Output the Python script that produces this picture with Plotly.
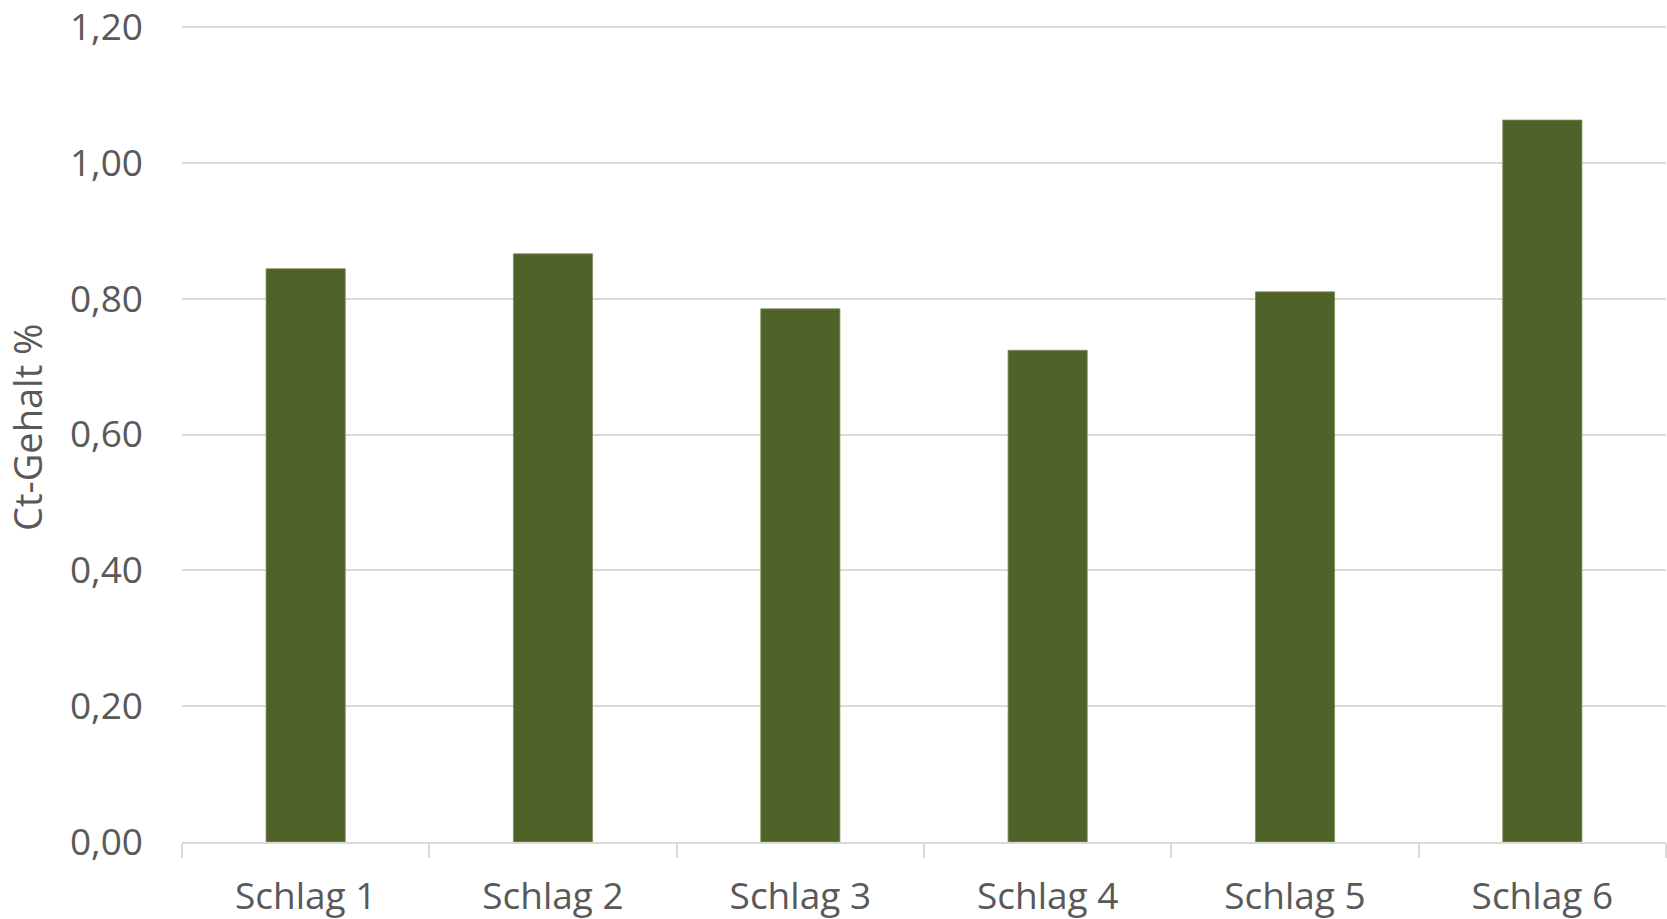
import plotly.graph_objects as go

# Ct-Gehalt je Schlag
schlaege = ["Schlag 1", "Schlag 2", "Schlag 3", "Schlag 4", "Schlag 5", "Schlag 6"]
ct_gehalt = [0.844, 0.866, 0.785, 0.724, 0.810, 1.063]
y_ticks = [0.0, 0.2, 0.4, 0.6, 0.8, 1.0, 1.2]

BAR_COLOR = "#4f6228"
GRID_COLOR = "#d9d9d9"
TEXT_COLOR = "#595959"
FONT = "Open Sans"

# plot area edges in px; the top tick sits 2 px below the upper edge so its grid line is kept
PLOT_TOP, PLOT_BOTTOM = 25, 842
Y_MAX = 1.2 * (PLOT_BOTTOM - PLOT_TOP) / (PLOT_BOTTOM - PLOT_TOP - 2)

fig = go.Figure(
    go.Bar(
        x=schlaege,
        y=ct_gehalt,
        marker=dict(color=BAR_COLOR, line=dict(color="#7d8c5c", width=0.8)),
    )
)

fig.update_layout(
    width=1667,
    height=919,
    margin=dict(l=182, r=1, t=PLOT_TOP, b=919 - PLOT_BOTTOM, autoexpand=False),
    paper_bgcolor="white",
    plot_bgcolor="white",
    bargap=0.68,
    separators=",.",
    showlegend=False,
    font=dict(family=FONT, size=37, color=TEXT_COLOR),
)

fig.update_xaxes(
    range=[-0.5, 5.5],
    automargin=False,
    showgrid=False,
    showline=True,
    linecolor=GRID_COLOR,
    linewidth=1.5,
    ticks="outside",
    tickson="boundaries",
    ticklen=14,
    tickwidth=1.5,
    tickcolor=GRID_COLOR,
    tickfont=dict(family=FONT, size=37, color=TEXT_COLOR),
    ticklabelstandoff=21,
    ticklabeloverflow="allow",
)

fig.update_yaxes(
    range=[0, Y_MAX],
    automargin=False,
    tickvals=y_ticks,
    tickformat=".2f",
    showgrid=True,
    gridcolor=GRID_COLOR,
    gridwidth=1.5,
    zeroline=False,
    showline=False,
    ticks="",
    tickfont=dict(family=FONT, size=37, color=TEXT_COLOR),
    ticklabelstandoff=38,
    ticklabeloverflow="allow",
)

fig.add_annotation(
    text="Ct-Gehalt %",
    xref="paper",
    yref="paper",
    x=(27 - 182) / 1484,
    y=(PLOT_BOTTOM - 427) / (PLOT_BOTTOM - PLOT_TOP),
    xanchor="center",
    yanchor="middle",
    textangle=-90,
    showarrow=False,
    font=dict(family=FONT, size=38, color=TEXT_COLOR),
)

fig.write_html("out.html")
